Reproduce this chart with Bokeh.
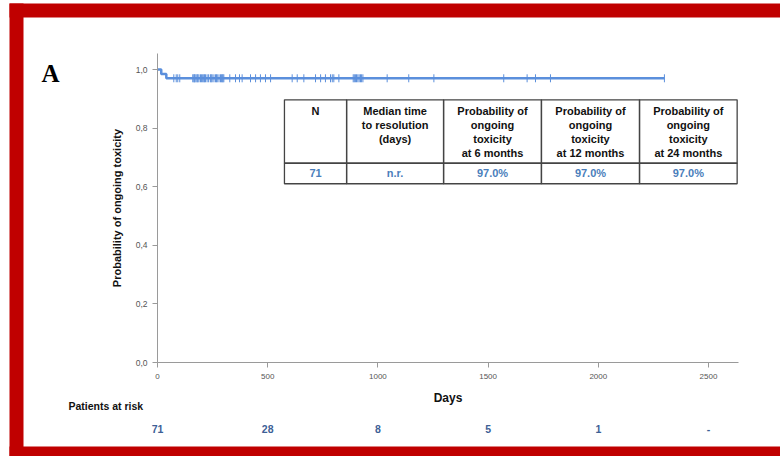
import numpy as np
from bokeh.plotting import figure
from bokeh.models import Range1d, FixedTicker, CustomJSTickFormatter, BoxAnnotation
from bokeh.core.properties import value
from bokeh.embed import file_html
from bokeh.resources import INLINE

# ---------------- data ----------------
step_days = [0, 17, 40, 2300]
step_prob = [1.0, 0.985, 0.970, 0.970]

censor_days = [74, 85, 92, 101, 160, 165, 167, 170, 175, 180, 183, 188, 195, 200, 205, 210,
               213, 218, 225, 232, 240, 244, 248, 256, 263, 268, 271, 279, 286, 290, 294, 297,
               301, 328, 354, 372, 384, 422, 445, 467, 490,
               513, 611, 634, 664, 717, 740, 762, 785, 793, 800, 823, 888, 893, 898, 903, 909,
               915, 921, 926, 932,
               1042, 1140, 1254, 1571, 1677, 1715, 1783, 2300]
censor_prob = [0.970] * len(censor_days)

x_ticks = [0, 500, 1000, 1500, 2000, 2500]
y_ticks = [0.0, 0.2, 0.4, 0.6, 0.8, 1.0]

risk_days = [0, 500, 1000, 1500, 2000, 2500]
risk_counts = ["71", "28", "8", "5", "1", "-"]

table_headers = ["N", "Median time\nto resolution\n(days)",
                 "Probability of\nongoing\ntoxicity\nat 6 months",
                 "Probability of\nongoing\ntoxicity\nat 12 months",
                 "Probability of\nongoing\ntoxicity\nat 24 months"]
table_values = ["71", "n.r.", "97.0%", "97.0%", "97.0%"]

# ---------------- layout ----------------
W, H = 780, 456
X0, Y0 = 157, 362          # page position of (0 days, 0 probability)
PX_DAY, PX_P = 0.2204, 293.0
x_rng = (-X0 / PX_DAY, (W - X0) / PX_DAY)
y_rng = (-(H - Y0) / PX_P, Y0 / PX_P)
x_axis_end = (738 - X0) / PX_DAY
y_axis_end = (Y0 - 53) / PX_P

col_edges = [576, 858, 1298, 1742, 2187, 2630]
tab_top, tab_sep, tab_bot = 0.8966, 0.680, 0.610
LINE = "#5b8fdc"
VAL = "#4a7ebb"
RED = "#c00000"
FONT = "Liberation Sans"

p = figure(width=W, height=H, output_backend="svg", toolbar_location=None,
           x_range=Range1d(*x_rng), y_range=Range1d(*y_rng),
           min_border_left=0, min_border_right=0, min_border_top=0, min_border_bottom=0)
p.outline_line_color = None
p.grid.visible = False
p.background_fill_color = "white"
p.border_fill_color = "white"

for ax in (p.xaxis[0], p.yaxis[0]):
    ax.fixed_location = 0
    ax.axis_line_color = "#9a9a9a"
    ax.major_tick_line_color = "#9a9a9a"
    ax.minor_tick_line_color = None
    ax.major_tick_out = 5
    ax.major_tick_in = 0
    ax.major_label_text_color = "#555555"
    ax.major_label_text_font = FONT
    ax.axis_label_text_font = FONT
    ax.axis_label_text_font_style = "bold"
    ax.axis_label_text_color = "#111111"

p.xaxis.bounds = (0, x_axis_end)
p.xaxis.ticker = FixedTicker(ticks=x_ticks)
p.xaxis.major_label_text_font_size = "8px"
p.xaxis.major_label_standoff = 6
p.xaxis.axis_label = "Days"
p.xaxis.axis_label_text_font_size = "12px"
p.xaxis.axis_label_standoff = 9

p.yaxis.bounds = (0, y_axis_end)
p.yaxis.ticker = FixedTicker(ticks=y_ticks)
p.yaxis.formatter = CustomJSTickFormatter(code="return tick.toFixed(1).replace('.', ',');")
p.yaxis.major_label_text_font_size = "8.5px"
p.yaxis.major_label_standoff = 5
p.yaxis.axis_label = "Probability of ongoing toxicity"
p.yaxis.axis_label_text_font_size = "11px"
p.yaxis.axis_label_standoff = 10

# survival curve
p.step(step_days, step_prob, mode="after", line_color=LINE, line_width=2.5)
p.scatter(censor_days, censor_prob, marker="dash", angle=np.pi / 2, size=8,
          line_color=LINE, line_width=1.0)

# table
n = len(table_headers)
p.quad(left=col_edges[:-1], right=col_edges[1:], top=[tab_top] * n, bottom=[tab_sep] * n,
       fill_color=None, line_color="#444444", line_width=1.3)
p.quad(left=col_edges[:-1], right=col_edges[1:], top=[tab_sep] * n, bottom=[tab_bot] * n,
       fill_color=None, line_color="#444444", line_width=1.3)
centers = [(a + b) / 2 for a, b in zip(col_edges[:-1], col_edges[1:])]
p.text(x=centers, y=[0.878] * n, text=table_headers, text_align="center", text_baseline="top",
       text_font=value(FONT), text_font_style="bold", text_font_size="11px",
       text_color="#111111", text_line_height=1.16)
p.text(x=centers, y=[0.6468] * n, text=table_values, text_align="center", text_baseline="middle",
       text_font=value(FONT), text_font_style="bold", text_font_size="11px", text_color=VAL)

# patients at risk
p.text(x=[(68 - X0) / PX_DAY], y=[(Y0 - 405) / PX_P], text=["Patients at risk"],
       text_baseline="middle", text_font=value(FONT), text_font_style="bold",
       text_font_size="10.5px", text_color="#111111")
p.text(x=risk_days, y=[(Y0 - 428) / PX_P] * len(risk_days), text=risk_counts,
       text_align="center", text_baseline="middle", text_font=value(FONT),
       text_font_style="bold", text_font_size="10.5px", text_color="#3d6096")

# panel letter
p.text(x=[(41 - X0) / PX_DAY], y=[(Y0 - 59) / PX_P], text=["A"], text_baseline="top",
       text_font=value("Liberation Serif"), text_font_style="bold", text_font_size="25px",
       text_color="black")

# red frame (screen units measured from the frame's bottom-left = canvas bottom-left)
def band(l, r, b, t):
    p.add_layout(BoxAnnotation(left=l, right=r, bottom=b, top=t, left_units="screen",
                               right_units="screen", top_units="screen", bottom_units="screen",
                               fill_color=RED, fill_alpha=1, line_color=None, level="overlay"))

band(9, W, H - 17, H - 3)
band(9, 23, 0, H - 3)
band(9, W, 0, H - 446)

open("out.html", "w").write(file_html(p, INLINE))
